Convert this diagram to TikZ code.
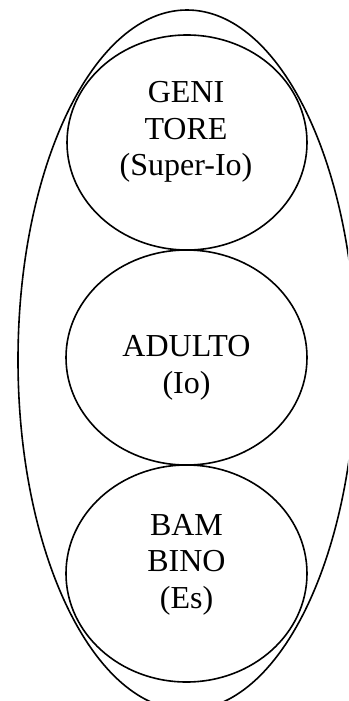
\documentclass[tikz,border=0pt]{standalone}
\usepackage{fontspec}
\setmainfont{Liberation Serif}
\usetikzlibrary{shapes.geometric}
\begin{document}
\begin{tikzpicture}[x=1pt,y=-1pt,
  ell/.style={draw, ellipse, inner sep=0pt, line width=1.6pt},
  lbl/.style={anchor=base, inner sep=0pt, font=\fontsize{32}{36}\selectfont}]
\useasboundingbox (0,0) rectangle (348,701);
\clip (0,0) rectangle (348,701);
\node[ell, minimum width=338pt, minimum height=700pt] (outer) at (187,360) {};
\node[ell, minimum width=240pt, minimum height=215pt] (gen) at (187,142.5) {};
\node[ell, minimum width=241pt, minimum height=215pt] (adu) at (186.5,357.5) {};
\node[ell, minimum width=241pt, minimum height=217pt] (bam) at (186.5,573.5) {};
\node[lbl] (g1) at (186,102.5) {GENI};
\node[lbl] (g2) at (186,139) {TORE};
\node[lbl] (g3) at (186,175.5) {(Super-Io)};
\node[lbl] (a1) at (186.5,356) {ADULTO};
\node[lbl] (a2) at (186.5,393.5) {(Io)};
\node[lbl] (b1) at (186.5,535) {BAM};
\node[lbl] (b2) at (186.5,571.7) {BINO};
\node[lbl] (b3) at (186.5,608) {(Es)};
\end{tikzpicture}
\end{document}
